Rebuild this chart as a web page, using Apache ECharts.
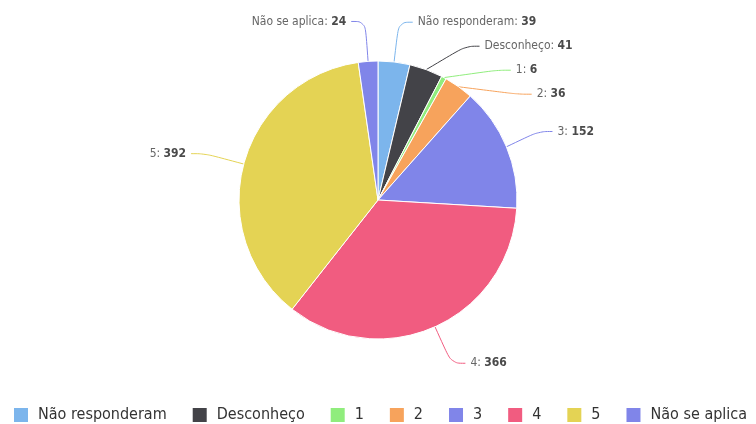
<!DOCTYPE html>
<html>
<head>
<meta charset="utf-8">
<script src="https://cdn.jsdelivr.net/npm/echarts@6/dist/echarts.min.js"></script>
<style>
  html, body { margin: 0; padding: 0; background: #fff; }
  #chart { width: 756px; height: 424px; }
</style>
</head>
<body>
<div id="chart"></div>
<script>
// Answer categories and counts
const categories = ['Não responderam', 'Desconheço', '1', '2', '3', '4', '5', 'Não se aplica'];
const counts = [39, 41, 6, 36, 152, 366, 392, 24];
const colors = ['#7cb5ec', '#434348', '#90ed7d', '#f7a35c', '#8085e9', '#f15c80', '#e4d354', '#8085e9'];

const chart = echarts.init(document.getElementById('chart'));

const data = categories.map((name, i) => ({
  name: name,
  value: counts[i],
  itemStyle: { color: colors[i] },
  labelLine: { lineStyle: { color: colors[i] } }
}));

const labelFont = 'DejaVu Sans Condensed';

chart.setOption({
  animation: false,
  legend: {
    bottom: 0,
    left: 12,
    right: 0,
    padding: 0,
    itemWidth: 16,
    itemHeight: 16,
    itemGap: 24,
    icon: 'rect',
    data: categories,
    textStyle: {
      fontFamily: 'DejaVu Sans Condensed',
      fontSize: 16,
      color: '#333',
      padding: [0, 0, 0, 4]
    }
  },
  series: [{
    type: 'pie',
    center: [378, 200],
    radius: 139,
    startAngle: 90,
    clockwise: true,
    avoidLabelOverlap: true,
    itemStyle: { borderColor: '#fff', borderWidth: 1 },
    label: {
      show: true,
      position: 'outside',
      minMargin: 12,
      formatter: p => '{n|' + p.name + ': }{v|' + p.value + '}',
      rich: {
        n: { fontFamily: labelFont, fontSize: 12, color: '#666' },
        v: { fontFamily: labelFont, fontSize: 12, color: '#4a4a4a', fontWeight: 'bold' }
      }
    },
    labelLine: {
      show: true,
      length: 40,
      length2: 14,
      smooth: 0.4,
      lineStyle: { width: 1 }
    },
    data: data
  }]
});
</script>
</body>
</html>
